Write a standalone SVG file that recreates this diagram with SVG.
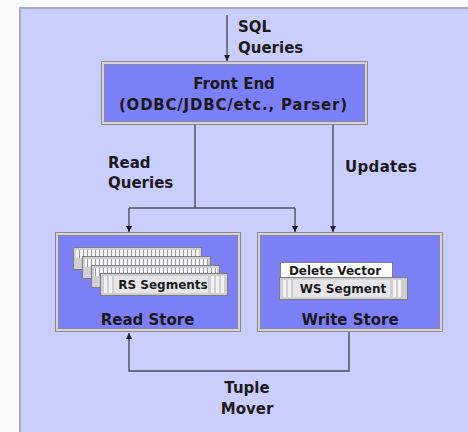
<svg xmlns="http://www.w3.org/2000/svg" width="468" height="432" viewBox="0 0 468 432">
<style>
.t{font-family:"DejaVu Sans","Liberation Sans",sans-serif;font-weight:bold;fill:#1a1a1a}
.lbl{font-size:15px}
.sm{font-size:12px}
.ob{fill:#d4d4d8;stroke:#8a8a8a;stroke-width:1}
.ib{fill:#7b80f7;stroke:#8888a0;stroke-width:1}
.conn{fill:none;stroke:#4a4e60;stroke-width:1.4}
.bar{fill:#cfcfd2;stroke:#7c7c80;stroke-width:1}
.tk{fill:url(#ticks)}
.st{fill:#f2f2f2}
</style>
<defs>
<marker id="ah" viewBox="0 0 8 8" refX="8" refY="4" markerWidth="6" markerHeight="6" markerUnits="userSpaceOnUse" orient="auto">
<path d="M0,0 L8,4 L0,8 Z" fill="#1e1e24"/>
</marker>
<pattern id="ticks" x="0" y="0" width="4" height="10" patternUnits="userSpaceOnUse">
<rect x="0" y="0" width="4" height="10" fill="#f4f4f4"/>
<rect x="3" y="0" width="1" height="10" fill="#9a9a9e"/>
</pattern>
</defs>
<rect x="0" y="0" width="468" height="432" fill="#fafafa"/>
<rect id="panel" x="20" y="8" width="470" height="440" fill="#cacefc" stroke="#a6aac6" stroke-width="2"/>

<g id="connectors">
<line class="conn" x1="227" y1="15" x2="227" y2="61" marker-end="url(#ah)"/>
<polyline class="conn" points="195,125 195,208"/>
<polyline class="conn" points="129,208 295,208"/>
<line class="conn" x1="129" y1="208" x2="129" y2="232" marker-end="url(#ah)"/>
<line class="conn" x1="295" y1="208" x2="295" y2="232" marker-end="url(#ah)"/>
<line class="conn" x1="333" y1="125" x2="333" y2="232" marker-end="url(#ah)"/>
<polyline class="conn" points="349,332 349,371 129,371 129,333" marker-end="url(#ah)"/>
<text class="t lbl" x="238" y="32">SQL</text>
<text class="t lbl" x="238" y="53">Queries</text>
<text class="t lbl" x="108" y="168">Read</text>
<text class="t lbl" x="108" y="188">Queries</text>
<text class="t lbl" x="345" y="172" textLength="72">Updates</text>
<text class="t lbl" x="247" y="393" text-anchor="middle">Tuple</text>
<text class="t lbl" x="247" y="414" text-anchor="middle">Mover</text>
</g>

<g id="front-end">
<rect class="ob" x="101.5" y="61.5" width="266" height="63"/>
<rect class="ib" x="104.5" y="64.5" width="260" height="57"/>
<text class="t lbl" x="234" y="89" text-anchor="middle">Front End</text>
<text class="t lbl" x="233" y="110" text-anchor="middle" textLength="228">(ODBC/JDBC/etc., Parser)</text>
</g>

<g id="read-store">
<rect class="ob" x="55.5" y="232.5" width="185" height="99"/>
<rect class="ib" x="58.5" y="235.5" width="179" height="93"/>
<g id="rs-bar1">
<rect class="bar" x="73.5" y="247.5" width="128" height="22"/>
<rect class="tk" x="76" y="250" width="123" height="8"/>
</g>
<g id="rs-bar2">
<rect class="bar" x="82.5" y="256.5" width="128" height="22"/>
<rect class="tk" x="85" y="259" width="123" height="8"/>
</g>
<g id="rs-bar3">
<rect class="bar" x="91.5" y="265.5" width="128" height="22"/>
<rect class="tk" x="94" y="268" width="123" height="8"/>
</g>
<g id="rs-bar4">
<rect class="bar" x="100.5" y="273.5" width="127" height="22"/>
<rect class="st" x="104" y="276" width="3" height="17"/>
<rect class="st" x="109" y="276" width="3" height="17"/>
<rect fill="#e6e6e8" x="114" y="276" width="94" height="17"/>
<rect class="st" x="211" y="276" width="3" height="17"/>
<rect class="st" x="216" y="276" width="3" height="17"/>
<rect class="st" x="221" y="276" width="3" height="17"/>
<text class="t sm" x="163" y="289" text-anchor="middle">RS Segments</text>
</g>
<text class="t lbl" x="147.5" y="325" text-anchor="middle">Read Store</text>
</g>

<g id="write-store">
<rect class="ob" x="257.5" y="232.5" width="185" height="99"/>
<rect class="ib" x="260.5" y="235.5" width="179" height="93"/>
<g id="delete-vector">
<rect x="280.5" y="262.5" width="112" height="15" fill="#ffffff" stroke="#7c7c80"/>
<text class="t sm" x="335" y="274.5" text-anchor="middle">Delete Vector</text>
</g>
<g id="ws-segment">
<rect class="bar" x="279.5" y="277.5" width="128" height="22"/>
<rect class="st" x="283" y="280" width="3" height="17"/>
<rect class="st" x="288" y="280" width="3" height="17"/>
<rect fill="#e6e6e8" x="293" y="280" width="97" height="17"/>
<rect class="st" x="393" y="280" width="3" height="17"/>
<rect class="st" x="398" y="280" width="3" height="17"/>
<text class="t sm" x="343" y="293" text-anchor="middle">WS Segment</text>
</g>
<text class="t lbl" x="350" y="325" text-anchor="middle">Write Store</text>
</g>
</svg>
